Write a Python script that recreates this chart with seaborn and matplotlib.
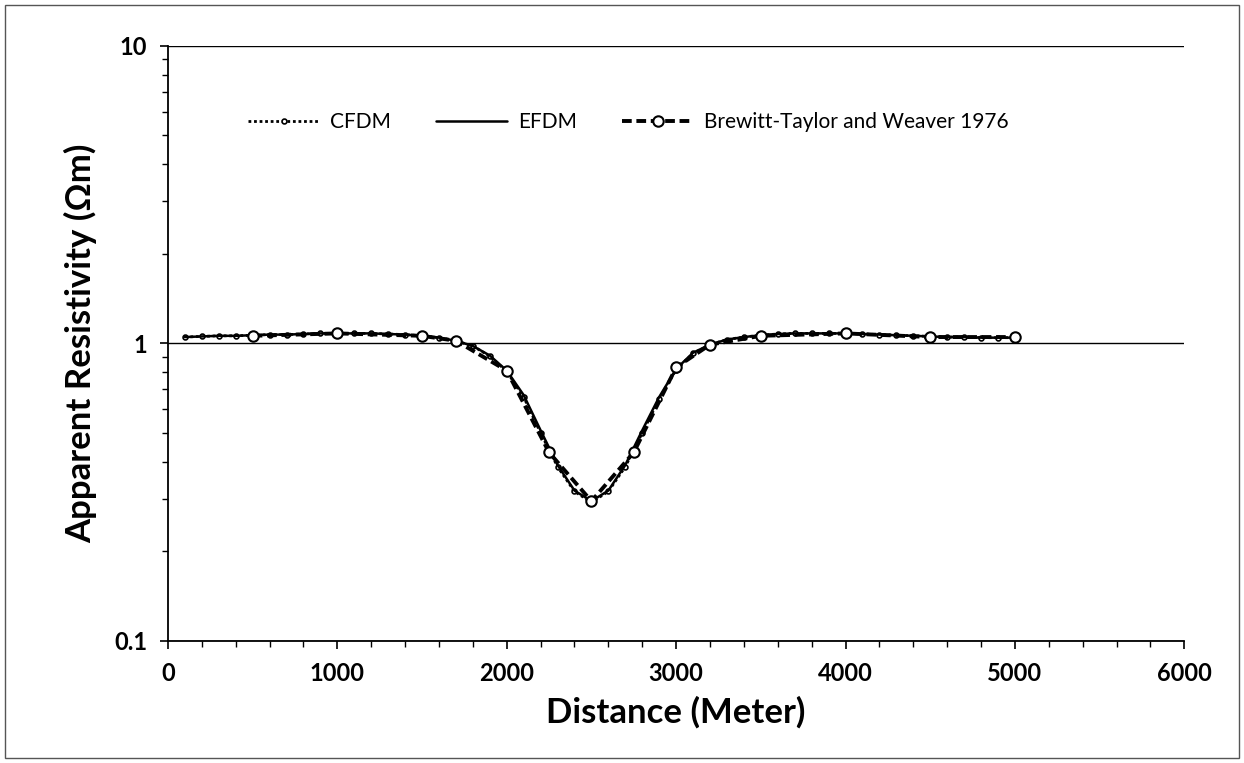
import numpy as np
import pandas as pd
import matplotlib
matplotlib.use("Agg")
import matplotlib.pyplot as plt
import seaborn as sns
from matplotlib.ticker import MultipleLocator, LogLocator, FixedLocator, NullFormatter
from matplotlib.patches import Rectangle

#%% data
dist = [100, 200, 300, 400, 500, 600, 700, 800, 900, 1000,
        1100, 1200, 1300, 1400, 1500, 1600, 1700, 1800, 1900, 2000,
        2100, 2200, 2300, 2400, 2500, 2600, 2700, 2800, 2900, 3000,
        3100, 3200, 3300, 3400, 3500, 3600, 3700, 3800, 3900, 4000,
        4100, 4200, 4300, 4400, 4500, 4600, 4700, 4800, 4900, 5000]

efdm = [1.050, 1.055, 1.060, 1.060, 1.065, 1.070, 1.070, 1.075, 1.080, 1.080,
        1.080, 1.080, 1.075, 1.070, 1.060, 1.045, 1.020, 0.980, 0.910, 0.810,
        0.670, 0.510, 0.390, 0.320, 0.295, 0.320, 0.390, 0.510, 0.660, 0.820,
        0.930, 0.990, 1.030, 1.050, 1.065, 1.075, 1.080, 1.080, 1.080, 1.080,
        1.075, 1.070, 1.065, 1.060, 1.055, 1.050, 1.050, 1.045, 1.045, 1.045]

cfdm = [1.050, 1.055, 1.060, 1.060, 1.065, 1.070, 1.070, 1.075, 1.080, 1.080,
        1.080, 1.080, 1.075, 1.070, 1.060, 1.045, 1.020, 0.980, 0.905, 0.805,
        0.660, 0.500, 0.385, 0.318, 0.292, 0.318, 0.385, 0.500, 0.650, 0.815,
        0.925, 0.990, 1.030, 1.050, 1.065, 1.075, 1.080, 1.080, 1.080, 1.080,
        1.075, 1.070, 1.065, 1.060, 1.055, 1.050, 1.050, 1.045, 1.045, 1.045]

bw_dist = [500, 1000, 1500, 1700, 2000, 2250, 2500, 2750, 3000, 3200, 3500, 4000, 4500, 5000]
bw_rho = [1.06, 1.08, 1.06, 1.02, 0.81, 0.43, 0.295, 0.43, 0.83, 0.99, 1.06, 1.08, 1.05, 1.05]

#%% plot
sns.set_theme(style="white")
plt.rcParams['font.family'] = ['Lato', 'DejaVu Sans']

fig = plt.figure(figsize=(12.44, 7.63), dpi=100)
ax = fig.add_axes([0.135, 0.160, 0.817, 0.780])

fd = pd.DataFrame({'x': dist, 'cfdm': cfdm, 'efdm': efdm})
bw = pd.DataFrame({'x': bw_dist, 'y': bw_rho})

sns.lineplot(data=fd, x='x', y='cfdm', ax=ax, color='black', lw=2.0,
             linestyle=(0, (1, 1.0)), marker='o', markersize=3.5,
             markerfacecolor='white', markeredgecolor='black', markeredgewidth=1.2,
             label='CFDM')
sns.lineplot(data=fd, x='x', y='efdm', ax=ax, color='black', lw=1.8, label='EFDM')
sns.lineplot(data=bw, x='x', y='y', ax=ax, color='black', lw=2.8,
             linestyle=(0, (2.5, 1.2)), marker='o', markersize=7.5,
             markerfacecolor='white', markeredgecolor='black', markeredgewidth=1.5,
             label='Brewitt-Taylor and Weaver 1976')

ax.set_yscale('log')
ax.set_ylim(0.1, 10)
ax.set_xlim(0, 6000)

ax.xaxis.set_major_locator(MultipleLocator(1000))
ax.xaxis.set_minor_locator(MultipleLocator(200))
ax.yaxis.set_major_locator(FixedLocator([0.1, 1, 10]))
ax.yaxis.set_major_formatter(plt.FuncFormatter(lambda v, p: '{:g}'.format(v)))
ax.yaxis.set_minor_locator(LogLocator(base=10, subs=np.arange(2, 10)))
ax.yaxis.set_minor_formatter(NullFormatter())

ax.tick_params(axis='both', which='major', direction='out', length=6, width=1.2,
               color='black', labelsize=17, labelcolor='black', pad=9,
               bottom=True, left=True)
ax.tick_params(axis='both', which='minor', direction='out', length=4, width=1,
               color='black', bottom=True, left=True)
for lbl in ax.get_xticklabels() + ax.get_yticklabels():
    lbl.set_fontweight('bold')

ax.grid(False)
ax.yaxis.grid(True, which='major', color='black', lw=1.0)
ax.set_axisbelow(True)

for s in ['top', 'right']:
    ax.spines[s].set_visible(False)
for s in ['left', 'bottom']:
    ax.spines[s].set_color('black')
    ax.spines[s].set_linewidth(1.3)

ax.set_xlabel('Distance (Meter)', fontsize=25, fontweight='bold', color='black', labelpad=8)
ax.set_ylabel('Apparent Resistivity (\u03a9m)', fontsize=25, fontweight='bold', color='black', labelpad=12)

leg = ax.legend(loc='center', bbox_to_anchor=(0.453, 0.872), ncol=3, frameon=False,
                fontsize=15, handlelength=3.4, columnspacing=2.2, handletextpad=0.5)
for t in leg.get_texts():
    t.set_color('black')

# outer chart border
fig.patches.append(Rectangle((0.004, 0.007), 0.992, 0.986, transform=fig.transFigure,
                             fill=False, edgecolor='#555555', lw=1))

fig.savefig('out.png', dpi=100)
